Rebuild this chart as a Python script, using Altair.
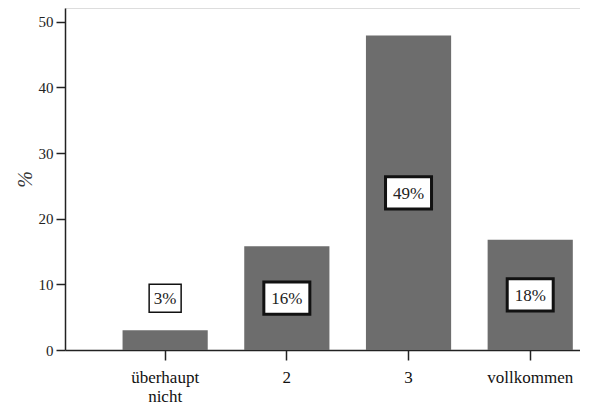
import altair as alt
import pandas as pd

categories = ["überhaupt nicht", "2", "3", "vollkommen"]
values = [3.0, 15.8, 47.9, 16.8]
labels = ["3%", "16%", "49%", "18%"]
y_ticks = [0, 10, 20, 30, 40, 50]

df = pd.DataFrame({"cat": categories, "val": values, "lab": labels})

FONT = "Liberation Serif"

x = alt.X(
    "cat:N",
    sort=categories,
    scale=alt.Scale(paddingInner=0.30, paddingOuter=0.266, align=0.889),
    axis=alt.Axis(
        title=None,
        labelAngle=0,
        labelFont=FONT,
        labelFontSize=17,
        labelColor="#111",
        labelPadding=9,
        labelExpr="split(datum.label, ' ')",
        tickSize=10,
        tickColor="#222",
        tickWidth=1.5,
        domainColor="#222",
        domainWidth=1.5,
        grid=False,
        labelLineHeight=19,
    ),
)

y_scale = alt.Scale(domain=[0, 52.1], nice=False)

bars = alt.Chart(df).mark_bar(color="#6d6d6d").encode(
    x=x,
    y=alt.Y(
        "val:Q",
        scale=y_scale,
        axis=alt.Axis(
            title="%",
            titleFont=FONT,
            titleFontSize=20,
            titleFontWeight="normal",
            titleFontStyle="italic",
            titleColor="#333",
            titlePadding=3,
            values=y_ticks,
            labelFont=FONT,
            labelFontSize=15,
            labelColor="#222",
            labelPadding=3,
            tickSize=9,
            tickColor="#222",
            tickWidth=1.5,
            domainColor="#222",
            domainWidth=1.5,
            grid=False,
        ),
    ),
)

base = alt.Chart(df).transform_calculate(
    ly="max(datum.val / 2, 7.9)", n="length(datum.lab)"
)

box3 = base.transform_filter("datum.n >= 3").mark_point(
    shape="M-1,-0.7H1V0.7H-1Z", size=2116, filled=True, fill="white",
    stroke="#111", strokeWidth=3, opacity=1
).encode(x=alt.X("cat:N", sort=categories), y=alt.Y("ly:Q", scale=y_scale))

box2 = base.transform_filter("datum.n < 3").mark_point(
    shape="M-1,-0.875H1V0.875H-1Z", size=1024, filled=True, fill="white",
    stroke="#111", strokeWidth=1.5, opacity=1
).encode(x=alt.X("cat:N", sort=categories), y=alt.Y("ly:Q", scale=y_scale))

txt = base.mark_text(font=FONT, fontSize=17, color="#222", baseline="middle", dy=1).encode(
    x=alt.X("cat:N", sort=categories),
    y=alt.Y("ly:Q", scale=y_scale),
    text="lab:N",
)

chart = (
    alt.layer(bars, box3, box2, txt)
    .properties(
        width=515,
        height=342,
        autosize=alt.AutoSizeParams(type="none"),
        padding={"left": 57, "top": 0, "right": 0, "bottom": 58},
    )
    .configure_view(stroke=None)
    .configure(background="white")
)

chart.save("out.html", embed_options={"renderer": "svg", "actions": False})
